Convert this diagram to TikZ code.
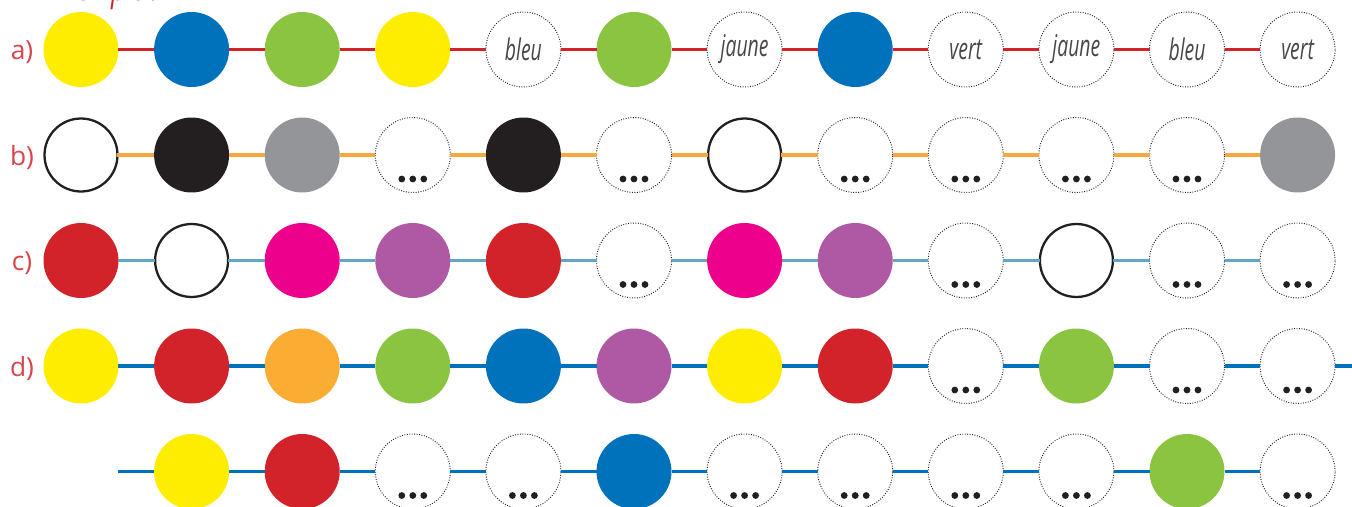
\documentclass[tikz,border=0pt]{standalone}
\usepackage{fontspec}
\setmainfont{Open Sans}
\newfontfamily\wordfont[FakeStretch=0.65]{Open Sans}
\usetikzlibrary{positioning}
\definecolor{cyel}{HTML}{FFED00}
\definecolor{cblu}{HTML}{0072BC}
\definecolor{cgrn}{HTML}{8AC441}
\definecolor{cblk}{HTML}{231F20}
\definecolor{cgry}{HTML}{939598}
\definecolor{cred}{HTML}{D2232A}
\definecolor{cmag}{HTML}{EC008C}
\definecolor{cpur}{HTML}{AF59A5}
\definecolor{camb}{HTML}{FBAD33}
\definecolor{corange}{HTML}{F7A941}
\definecolor{csteel}{HTML}{62A6C6}

\begin{document}
\begin{tikzpicture}[x=0.02cm,y=-0.02cm,
  ball/.style={circle,inner sep=0pt,outer sep=0pt,minimum size=1.5cm},
  yel/.style={ball,fill=cyel}, blu/.style={ball,fill=cblu},
  grn/.style={ball,fill=cgrn}, blk/.style={ball,fill=cblk},
  gry/.style={ball,fill=cgry}, crim/.style={ball,fill=cred},
  mag/.style={ball,fill=cmag}, pur/.style={ball,fill=cpur},
  amb/.style={ball,fill=camb},
  hol/.style={ball,draw=cblk,fill=white,line width=1.3pt,minimum size=1.46cm},
  opn/.style={ball,draw=cblk,line width=0.55pt,dash pattern=on 0.5pt off 0.9pt},
  word/.style={text=black!72,font=\wordfont\itshape\fontsize{17}{20}\selectfont},
  bleu/.style={opn,label={[word]center:bleu}},
  jaune/.style={opn,label={[word]center:jaune}},
  vert/.style={opn,label={[word]center:vert}},
  more/.style={opn,path picture={\foreach \k in {-11,0,11}
      \fill[cblk] ([shift={(\k,24)}]path picture bounding box.center) circle (3.4);}},
  stub/.style={coordinate,xshift=0.75cm},
  lbl/.style={text=cred!85,font=\fontsize{15}{18}\selectfont},
  link/.style={line width=1.9pt}]
  \useasboundingbox (0,0) rectangle (1352,507);
  \node[anchor=base west,text=cred,font=\wordfont\itshape\fontsize{22}{26}\selectfont]
    (exm) at (46,0.6) {Exemple :};
  \foreach \row/\yy in {a/49.5,b/155,c/260.5,d/366}
    \node[lbl] (lab\row) at (22,\yy+3) {\row)};
  \foreach \row/\yy/\lc/\list in {
      a/49.5/cred/{yel,blu,grn,yel,bleu,grn,jaune,blu,vert,jaune,bleu,vert},
      b/155/corange/{hol,blk,gry,more,blk,more,hol,more,more,more,more,gry},
      c/260.5/csteel/{crim,hol,mag,pur,crim,more,mag,pur,more,hol,more,more},
      d/366/cblu/{yel,crim,amb,grn,blu,pur,yel,crim,more,grn,more,more},
      e/471.5/cblu/{stub,yel,crim,more,more,blu,more,more,more,more,grn,more}}{
    \foreach \st [count=\i] in \list
      \node[\st] (\row\i) at ({81+110.6*(\i-1)},\yy) {};
    \foreach \i [evaluate=\i as \j using int(\i+1)] in {1,...,11}
      \draw[link,draw=\lc] (\row\i) -- (\row\j);
  }
  \coordinate (dend) at (1352,366);
  \draw[link,draw=cblu] (d12) -- (dend);
\end{tikzpicture}
\end{document}
